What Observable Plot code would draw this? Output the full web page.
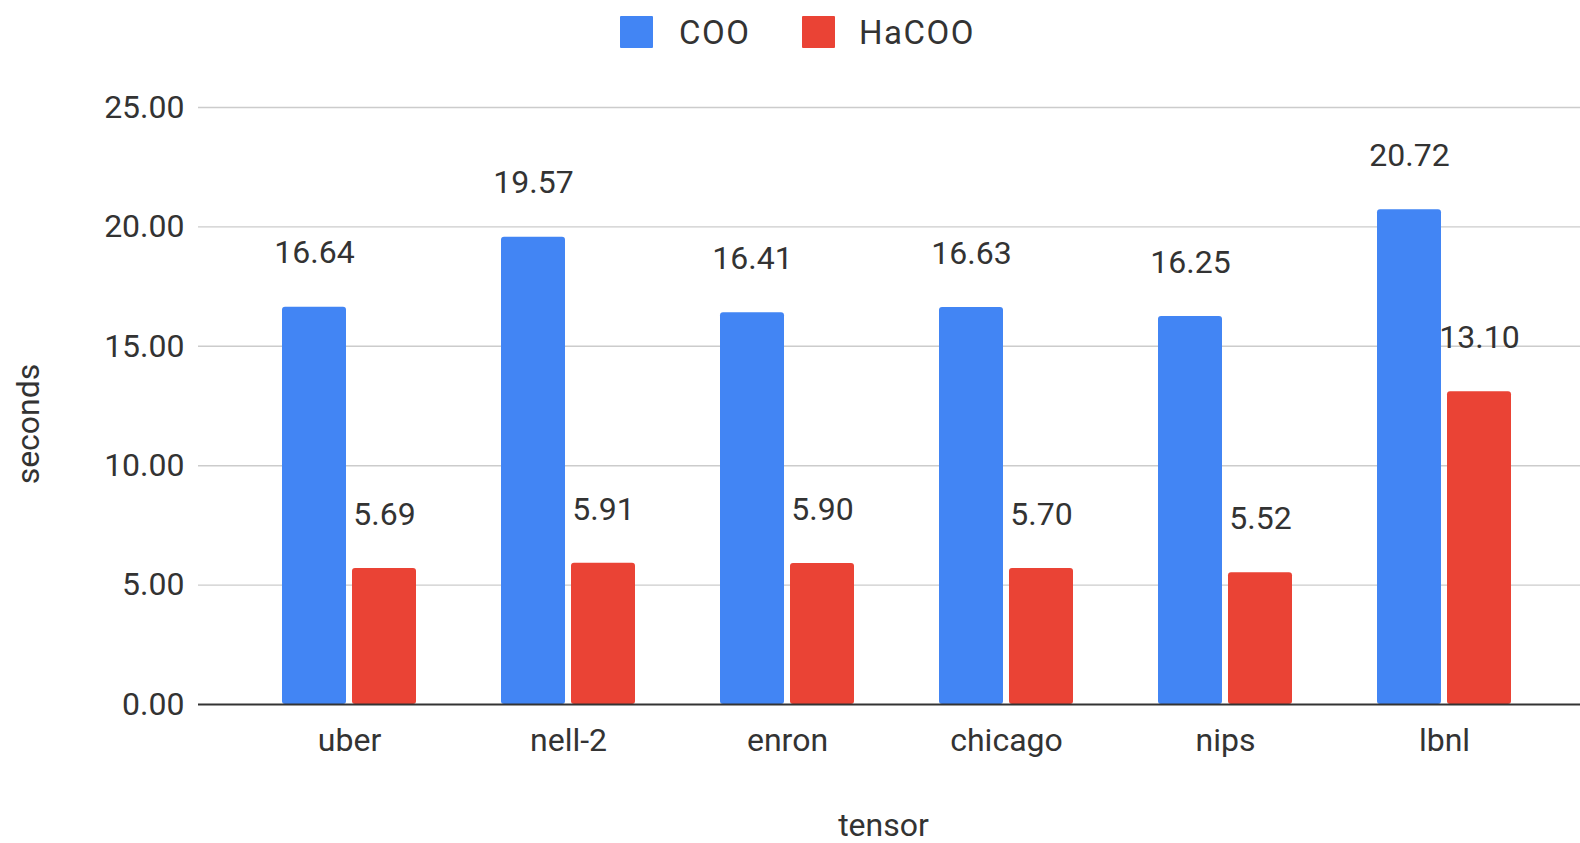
<!DOCTYPE html>
<html>
<head>
<meta charset="utf-8">
<script src="https://cdn.jsdelivr.net/npm/d3@7"></script>
<script src="https://cdn.jsdelivr.net/npm/@observablehq/plot@0.6"></script>
<style>
  html, body { margin: 0; padding: 0; background: #ffffff; }
  body { width: 1580px; height: 843px; overflow: hidden; font-family: Roboto, "Noto Sans", sans-serif; color: #333; }
  #legend { position: relative; width: 1580px; height: 62px; }
  #legend .swatch { position: absolute; top: 16px; width: 33px; height: 32px; border-radius: 1px; }
  #legend .name { position: absolute; top: 13px; font-size: 33px; line-height: 40px; letter-spacing: 1.5px; color: #333; }
  #chart svg { display: block; }
</style>
</head>
<body>
<div id="legend"></div>
<div id="chart"></div>
<script>
// Tensors and measured run times (seconds) for each storage format
const categories = ["uber", "nell-2", "enron", "chicago", "nips", "lbnl"];
const cooSeconds = [16.64, 19.57, 16.41, 16.63, 16.25, 20.72];
const hacooSeconds = [5.69, 5.91, 5.90, 5.70, 5.52, 13.10];
const series = ["COO", "HaCOO"];
const seriesColors = ["#4285F4", "#EA4335"];
const yTicks = [0, 5, 10, 15, 20, 25];

const rows = categories.flatMap((tensor, i) => [
  {tensor, series: series[0], seconds: cooSeconds[i]},
  {tensor, series: series[1], seconds: hacooSeconds[i]}
]);
const cooRows = rows.filter(d => d.series === series[0]);
const hacooRows = rows.filter(d => d.series === series[1]);

// Legend row above the plot
const legend = document.getElementById("legend");
const legendSwatchX = [620, 802];
const legendTextX = [679, 859];
series.forEach((name, i) => {
  const sw = document.createElement("div");
  sw.className = "swatch";
  sw.style.left = legendSwatchX[i] + "px";
  sw.style.background = seriesColors[i];
  legend.appendChild(sw);
  const label = document.createElement("div");
  label.className = "name";
  label.style.left = legendTextX[i] + "px";
  label.textContent = name;
  legend.appendChild(label);
});

const fmt = d3.format(".2f");
const textStyle = {fill: "#333", fontSize: 32, letterSpacing: 0.6};

const chart = Plot.plot({
  width: 1580,
  height: 781,
  marginLeft: 198,
  marginRight: 0,
  marginTop: 45,
  marginBottom: 139,
  style: {fontFamily: "Roboto, 'Noto Sans', sans-serif", fontSize: "33px", color: "#333", background: "#ffffff", overflow: "visible"},
  x: {domain: categories, range: [239, 1553], paddingInner: 0.39, paddingOuter: 0.195, label: null},
  y: {domain: [0, 25], label: null},
  color: {domain: series, range: seriesColors},
  marks: [
    Plot.ruleY(yTicks.slice(1), {stroke: "#cccccc", strokeWidth: 1.4}),
    Plot.barY(cooRows, {x: "tensor", y: "seconds", fill: "series", insetRight: 70, rx: 3}),
    Plot.barY(hacooRows, {x: "tensor", y: "seconds", fill: "series", insetLeft: 70, rx: 3}),
    Plot.ruleY([0], {stroke: "#333333", strokeWidth: 2}),
    Plot.text(cooRows, {x: "tensor", y: "seconds", text: d => fmt(d.seconds), dx: -35, dy: -54, ...textStyle}),
    Plot.text(hacooRows, {x: "tensor", y: "seconds", text: d => fmt(d.seconds), dx: 35, dy: -54, ...textStyle}),
    Plot.axisY({ticks: yTicks, tickFormat: fmt, tickSize: 0, tickPadding: 14, label: null, ...textStyle}),
    Plot.axisX({tickSize: 0, tickPadding: 24, label: null, ...textStyle}),
    Plot.text(["seconds"], {frameAnchor: "left", textAnchor: "middle", lineAnchor: "middle", rotate: -90, dx: -170, dy: 18, ...textStyle}),
    Plot.text(["tensor"], {frameAnchor: "bottom", textAnchor: "middle", lineAnchor: "middle", dy: 121, dx: -6, ...textStyle})
  ]
});
document.getElementById("chart").appendChild(chart);
</script>
</body>
</html>
